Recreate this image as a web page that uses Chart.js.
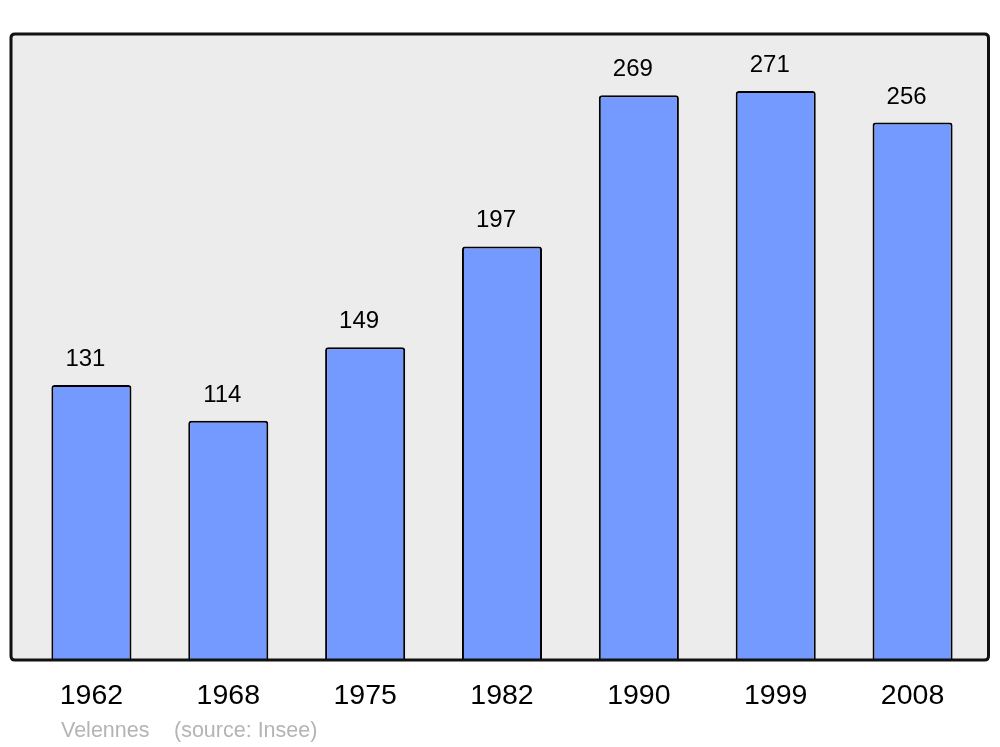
<!DOCTYPE html>
<html>
<head>
<meta charset="utf-8">
<title>Velennes - population</title>
<script src="https://cdn.jsdelivr.net/npm/chart.js@4/dist/chart.umd.min.js"></script>
<style>
    body { margin: 0; background: #ffffff; }
    #chart { display: block; }
</style>
</head>
<body>
<canvas id="chart" width="1000" height="747"></canvas>
<script>
// Population data (source: Insee)
var years = ['1962', '1968', '1975', '1982', '1990', '1999', '2008'];
var population = [131, 114, 149, 197, 269, 271, 256];
var footerName = 'Velennes';
var footerSource = '(source: Insee)';

var fontFamily = '"Liberation Sans", Arial, sans-serif';

// Grey rounded panel behind the bars
var panelPlugin = {
    id: 'panel',
    panelPath: function (ctx, area) {
        var x0 = area.left - 12, x1 = area.right + 7.5;
        var y0 = area.top, y1 = area.bottom;
        var r = 4;
        ctx.beginPath();
        ctx.moveTo(x0 + r, y0);
        ctx.lineTo(x1 - r, y0);
        ctx.quadraticCurveTo(x1, y0, x1, y0 + r);
        ctx.lineTo(x1, y1 - r);
        ctx.quadraticCurveTo(x1, y1, x1 - r, y1);
        ctx.lineTo(x0 + r, y1);
        ctx.quadraticCurveTo(x0, y1, x0, y1 - r);
        ctx.lineTo(x0, y0 + r);
        ctx.quadraticCurveTo(x0, y0, x0 + r, y0);
        ctx.closePath();
    },
    beforeDatasetsDraw: function (chart) {
        var ctx = chart.ctx;
        ctx.save();
        this.panelPath(ctx, chart.chartArea);
        ctx.fillStyle = '#ececec';
        ctx.fill();
        ctx.restore();
    },
    afterDatasetsDraw: function (chart) {
        var ctx = chart.ctx;
        ctx.save();
        this.panelPath(ctx, chart.chartArea);
        ctx.lineWidth = 3;
        ctx.strokeStyle = '#111111';
        ctx.stroke();

        // value labels above each bar
        var meta = chart.getDatasetMeta(0);
        ctx.fillStyle = '#000000';
        ctx.font = '24px ' + fontFamily;
        ctx.textAlign = 'center';
        ctx.textBaseline = 'alphabetic';
        meta.data.forEach(function (bar, i) {
            ctx.fillText(String(population[i]), bar.x - 6, bar.y - 19);
        });

        // footer
        ctx.fillStyle = '#b4b4b4';
        ctx.font = '21.5px ' + fontFamily;
        ctx.textAlign = 'left';
        ctx.fillText(footerName, 61, 737);
        ctx.fillText(footerSource, 174, 737);
        ctx.restore();
    }
};

new Chart(document.getElementById('chart'), {
    type: 'bar',
    data: {
        labels: years,
        datasets: [{
            data: population,
            backgroundColor: '#7499ff',
            borderColor: '#000000',
            borderWidth: 2,
            borderRadius: 3,
            barPercentage: 0.585,
            categoryPercentage: 1
        }]
    },
    options: {
        responsive: false,
        animation: false,
        events: [],
        layout: {
            padding: { left: 23, right: 19, top: 34, bottom: 0 }
        },
        plugins: {
            legend: { display: false },
            tooltip: { enabled: false }
        },
        scales: {
            x: {
                grid: { display: false, drawTicks: false },
                border: { display: false },
                ticks: {
                    color: '#000000',
                    padding: 19,
                    font: { family: fontFamily, size: 28.5 }
                },
                afterFit: function (scale) {
                    scale.height = 87;
                }
            },
            y: {
                display: false,
                min: 0,
                max: 298.2
            }
        }
    },
    plugins: [panelPlugin]
});
</script>
</body>
</html>
